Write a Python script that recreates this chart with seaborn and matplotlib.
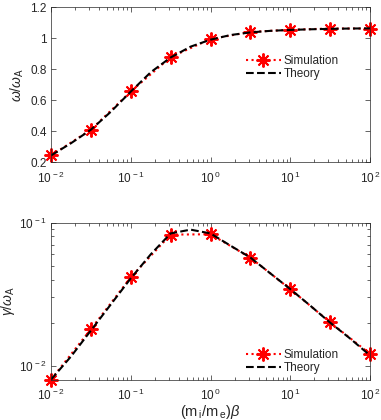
import numpy as np
import pandas as pd
import matplotlib
matplotlib.use("Agg")
import matplotlib.pyplot as plt
import seaborn as sns
from matplotlib.ticker import LogLocator, NullFormatter, FixedLocator, FuncFormatter

# ---- data ----
x_sim = [0.01, 0.0316, 0.1, 0.316, 1.0, 3.16, 10.0, 31.6, 100.0]
omega_sim = [0.243, 0.409, 0.656, 0.877, 0.994, 1.040, 1.054, 1.062, 1.062]
gamma_sim = [0.0080, 0.0180, 0.0415, 0.0824, 0.0829, 0.0569, 0.0343, 0.0201, 0.0121]

x_theory = [0.01, 0.0178, 0.0316, 0.0562, 0.1, 0.178, 0.316, 0.562, 1.0,
            1.78, 3.16, 5.62, 10.0, 17.8, 31.6, 56.2, 100.0]
omega_theory = [0.243, 0.322, 0.409, 0.525, 0.655, 0.780, 0.875, 0.945, 0.990,
                1.020, 1.037, 1.047, 1.053, 1.057, 1.060, 1.062, 1.063]
gamma_theory = [0.0080, 0.0116, 0.0176, 0.0268, 0.0408, 0.0600, 0.0840, 0.0893, 0.0840,
                0.0690, 0.0570, 0.0442, 0.0343, 0.0263, 0.0200, 0.0155, 0.0118]

sim = pd.DataFrame({"x": x_sim, "omega": omega_sim, "gamma": gamma_sim})
theo = pd.DataFrame({"x": x_theory, "omega": omega_theory, "gamma": gamma_theory})

sns.set_style("ticks")
plt.rcParams["font.family"] = ["Liberation Sans", "DejaVu Sans"]
plt.rcParams["mathtext.fontset"] = "custom"
plt.rcParams["mathtext.rm"] = "Liberation Sans"
plt.rcParams["mathtext.it"] = "Liberation Sans:italic"
plt.rcParams["mathtext.bf"] = "Liberation Sans:bold"

txt = "#262626"
fs = 8.5
fig = plt.figure(figsize=(3.81, 4.20), dpi=100)
ax1 = fig.add_axes([0.134, 0.614, 0.837, 0.369])
ax2 = fig.add_axes([0.134, 0.096, 0.837, 0.374])

star = (8, 2, 0)

def pow_fmt(v, pos):
    e = int(round(np.log10(v)))
    return r"$\mathregular{10^{\,%d}}$" % e

def draw(ax, col):
    sns.lineplot(data=sim, x="x", y=col, ax=ax, color="red", linestyle=":",
                 linewidth=1.5, marker=star, markersize=10, markeredgewidth=1.4,
                 markeredgecolor="red", label="Simulation", clip_on=False)
    sns.lineplot(data=theo, x="x", y=col, ax=ax, color="black", linestyle="--",
                 linewidth=1.5, label="Theory", dashes=(4, 2.5))
    ax.set_xscale("log")
    ax.set_xlim(0.01, 100)
    ax.xaxis.set_major_locator(LogLocator(base=10, numticks=10))
    ax.xaxis.set_major_formatter(FuncFormatter(pow_fmt))
    ax.xaxis.set_minor_locator(LogLocator(base=10, subs=np.arange(2, 10), numticks=50))
    ax.xaxis.set_minor_formatter(NullFormatter())
    ax.tick_params(which="both", direction="in", top=True, right=True,
                   colors=txt, labelsize=fs, width=0.5)
    ax.tick_params(which="major", length=3.5, pad=3)
    ax.tick_params(axis="x", which="major", pad=6)
    ax.tick_params(which="minor", length=2)
    for s in ax.spines.values():
        s.set_linewidth(0.5)
        s.set_color(txt)
    ax.set_xlabel("")

draw(ax1, "omega")
ax1.set_ylim(0.2, 1.2)
ax1.yaxis.set_major_locator(FixedLocator([0.2, 0.4, 0.6, 0.8, 1.0, 1.2]))
ax1.set_yticklabels(["0.2", "0.4", "0.6", "0.8", "1", "1.2"])
ax1.set_ylabel(r"$\omega/\omega_{\rm A}$", fontsize=10, color=txt, labelpad=3)
leg1 = ax1.legend(loc="upper left", bbox_to_anchor=(0.595, 0.72), frameon=False,
                  fontsize=8.5, handlelength=3.0, handletextpad=0.2,
                  labelspacing=0.1, borderaxespad=0)

draw(ax2, "gamma")
ax2.set_yscale("log")
ax2.set_ylim(10**-2.098, 0.1)
ax2.yaxis.set_major_locator(FixedLocator([0.01, 0.1]))
ax2.yaxis.set_major_formatter(FuncFormatter(pow_fmt))
ax2.yaxis.set_minor_locator(FixedLocator([0.02, 0.03, 0.04, 0.05, 0.06, 0.07, 0.08, 0.09]))
ax2.yaxis.set_minor_formatter(NullFormatter())
ax2.set_ylabel(r"$\gamma/\omega_{\rm A}$", fontsize=10, color=txt, labelpad=1)
ax2.set_xlabel(r"(m$_{\rm\,i}$/m$_{\rm\,e}$)$\beta$", fontsize=10.5, color=txt, labelpad=0)
leg2 = ax2.legend(loc="upper left", bbox_to_anchor=(0.595, 0.225), frameon=False,
                  fontsize=8.5, handlelength=3.0, handletextpad=0.2,
                  labelspacing=0.1, borderaxespad=0)
for leg in (leg1, leg2):
    for t in leg.get_texts():
        t.set_color(txt)

fig.savefig("out.png", dpi=100)
